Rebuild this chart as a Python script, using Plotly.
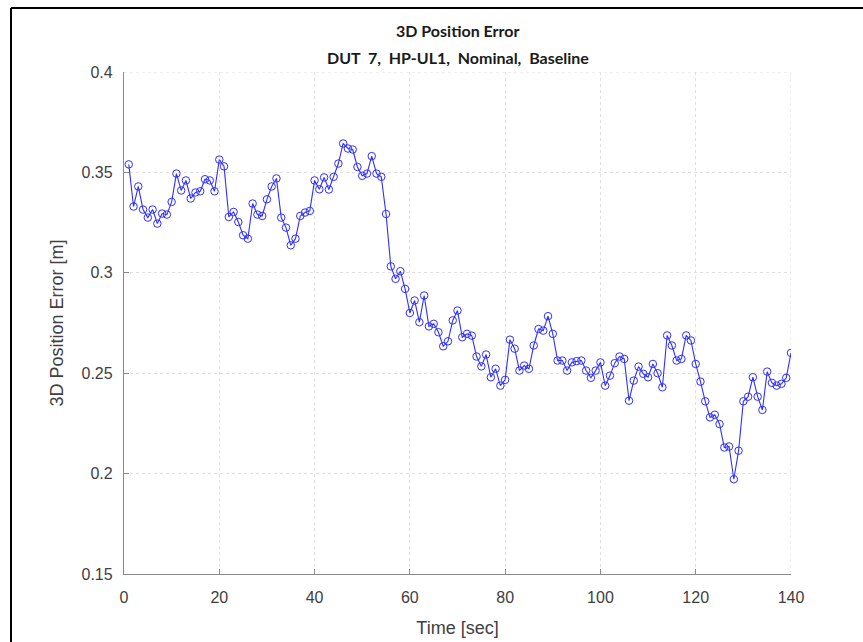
import plotly.graph_objects as go

# Sample times [sec]
time_sec = list(range(1, 141))

# 3D position error [m] per sample
pos_error_m = [
    0.354, 0.333, 0.343, 0.3315, 0.3275, 0.3315, 0.3245, 0.3295, 0.329, 0.3353,
    0.3494, 0.341, 0.346, 0.337, 0.340, 0.3406, 0.3466, 0.346, 0.3406, 0.3564,
    0.353, 0.3278, 0.3303, 0.3253, 0.3187, 0.317, 0.3345, 0.329, 0.3283, 0.3366,
    0.343, 0.347, 0.3275, 0.3225, 0.3137, 0.317, 0.3283, 0.330, 0.3308, 0.346,
    0.3416, 0.3475, 0.3415, 0.3478, 0.3544, 0.3644, 0.3619, 0.3614, 0.3527, 0.3483,
    0.3494, 0.3581, 0.3494, 0.3478, 0.3293, 0.3032, 0.297, 0.3008, 0.292, 0.280,
    0.2862, 0.2754, 0.2887, 0.2733, 0.2746, 0.2704, 0.2634, 0.2659, 0.2763, 0.2812,
    0.2679, 0.2696, 0.2687, 0.2583, 0.2534, 0.2593, 0.248, 0.2522, 0.2438, 0.2467,
    0.2667, 0.2622, 0.2513, 0.2538, 0.2522, 0.2638, 0.272, 0.2712, 0.2784, 0.2696,
    0.2563, 0.2563, 0.2513, 0.2554, 0.256, 0.2563, 0.2513, 0.2477, 0.2513, 0.2554,
    0.2438, 0.2488, 0.255, 0.2583, 0.2571, 0.2363, 0.2463, 0.2533, 0.2497, 0.248,
    0.2546, 0.250, 0.243, 0.2688, 0.2638, 0.2563, 0.2571, 0.2688, 0.2663, 0.2546,
    0.2458, 0.236, 0.228, 0.2293, 0.2247, 0.213, 0.2135, 0.1972, 0.2114, 0.236,
    0.2383, 0.248, 0.2383, 0.2317, 0.2508, 0.2452, 0.2438, 0.2447, 0.2477, 0.2601,
]

x_ticks = [0, 20, 40, 60, 80, 100, 120, 140]
y_ticks = [0.15, 0.2, 0.25, 0.3, 0.35, 0.4]
y_tick_text = ["0.15", "0.2", "0.25", "0.3", "0.35", "0.4"]

title_lines = ["3D Position Error", "DUT 7, HP-UL1, Nominal, Baseline"]

line_color = "#2f2fff"
axis_color = "#8a8a8a"
grid_color = "#e0e0e0"
text_color = "#404040"
tick_font = dict(family="Liberation Sans, Arial, sans-serif", size=16, color=text_color)
label_font = dict(family="Liberation Sans, Arial, sans-serif", size=18, color=text_color)

fig = go.Figure()
fig.add_trace(go.Scatter(
    x=time_sec, y=pos_error_m,
    mode="lines+markers",
    line=dict(color=line_color, width=1.1),
    marker=dict(symbol="circle-open", size=7.5, color=line_color, line=dict(width=1)),
    showlegend=False,
))

fig.update_layout(
    width=863, height=642,
    margin=dict(l=124, r=72, t=72, b=68),
    paper_bgcolor="white",
    plot_bgcolor="white",
    xaxis=dict(
        range=[0, 140], tickvals=x_ticks, automargin=False,
        showgrid=True, gridcolor=grid_color, griddash="dot", gridwidth=1,
        showline=True, linecolor=axis_color, linewidth=1.3, mirror=False,
        ticks="inside", ticklen=5, tickcolor=axis_color,
        tickfont=tick_font, zeroline=False, ticklabelstandoff=9,
        title=dict(text="Time [sec]", font=label_font, standoff=16),
    ),
    yaxis=dict(
        range=[0.15, 0.4], tickvals=y_ticks, ticktext=y_tick_text, automargin=False,
        showgrid=True, gridcolor=grid_color, griddash="dot", gridwidth=1,
        showline=True, linecolor=axis_color, linewidth=1.3, mirror=False,
        ticks="inside", ticklen=5, tickcolor=axis_color,
        tickfont=tick_font, zeroline=False, ticklabelstandoff=7,
        title=dict(text="3D Position Error [m]", font=label_font, standoff=13),
    ),
)

# Dotted grid lines along the top and right edges of the plot box
fig.add_shape(type="line", xref="x", yref="y", x0=0, x1=140, y0=0.4, y1=0.4,
              line=dict(color=grid_color, width=1, dash="dot"), layer="below")
fig.add_shape(type="line", xref="x", yref="y", x0=140, x1=140, y0=0.15, y1=0.4,
              line=dict(color=grid_color, width=1, dash="dot"), layer="below")

# Two-line bold title (wider word spacing on the subtitle)
title_font = dict(family="Lato, Noto Sans, sans-serif", size=16, color="#1a1a1a")
fig.add_annotation(text="<b>" + title_lines[0] + "</b>", xref="paper", yref="paper",
                   x=0.5, y=1, yshift=42, showarrow=False, font=title_font, yanchor="middle")
fig.add_annotation(text="<b>" + title_lines[1].replace(" ", "&nbsp;&nbsp;") + "</b>",
                   xref="paper", yref="paper",
                   x=0.5, y=1, yshift=15, showarrow=False, font=title_font, yanchor="middle")

# Black frame along the top and left edges of the figure
fig.add_shape(type="line", xref="paper", yref="paper", x0=-113 / 667, x1=1 + 72 / 667,
              y0=1 + 64 / 502, y1=1 + 64 / 502, line=dict(color="black", width=2))
fig.add_shape(type="line", xref="paper", yref="paper", x0=-113 / 667, x1=-113 / 667,
              y0=-68 / 502, y1=1 + 64 / 502, line=dict(color="black", width=2))

fig.write_html("out.html")
